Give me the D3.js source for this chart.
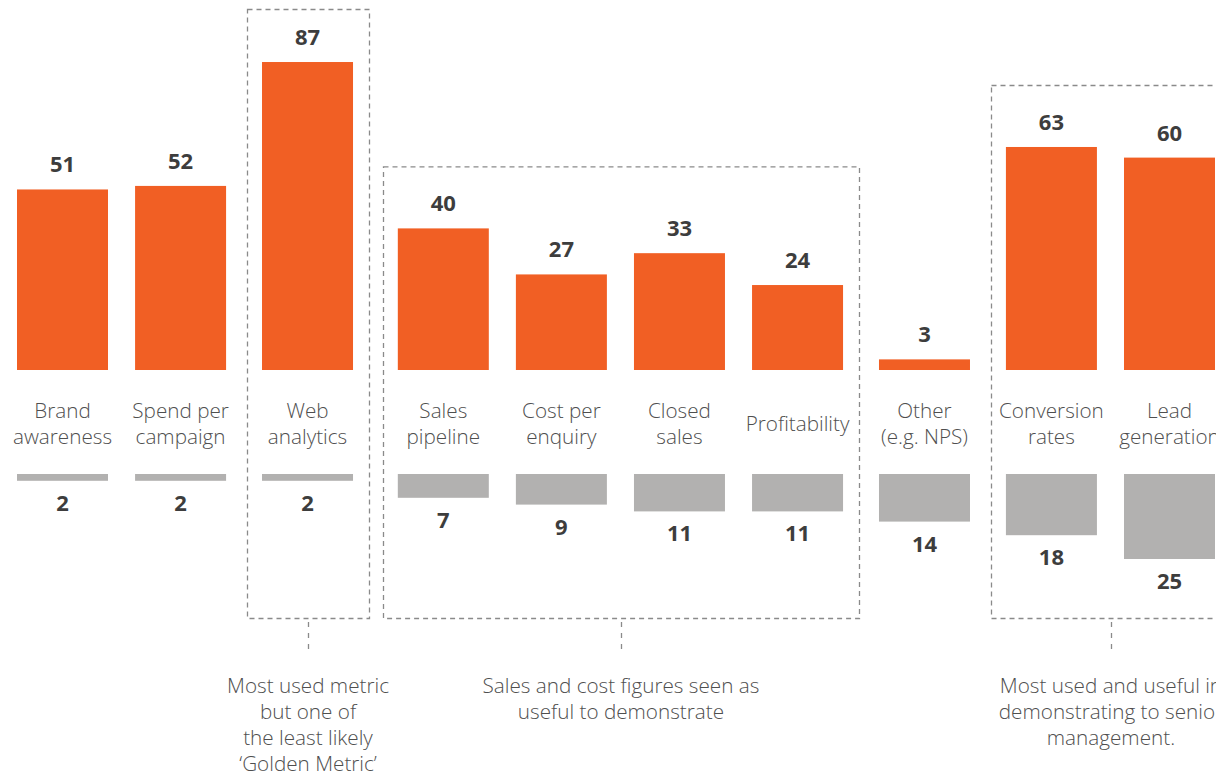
<!DOCTYPE html>
<html>
<head>
<meta charset="utf-8">
<script src="https://cdn.jsdelivr.net/npm/d3@7"></script>
<style>
  html, body { margin: 0; padding: 0; background: #ffffff; }
  svg { display: block; }
  text { font-family: "Open Sans", "Noto Sans", sans-serif; }
</style>
</head>
<body>
<svg id="chart" width="1216" height="778"></svg>
<script>
// Metrics, in display order
const categories = [
  "Brand awareness", "Spend per campaign", "Web analytics", "Sales pipeline",
  "Cost per enquiry", "Closed sales", "Profitability", "Other (e.g. NPS)",
  "Conversion rates", "Lead generation"
];
// Category labels, split onto lines as printed
const labelLines = [
  ["Brand", "awareness"], ["Spend per", "campaign"], ["Web", "analytics"],
  ["Sales", "pipeline"], ["Cost per", "enquiry"], ["Closed", "sales"],
  ["Profitability"], ["Other", "(e.g. NPS)"], ["Conversion", "rates"],
  ["Lead", "generation"]
];
// Share using each metric (upper, orange)
const usedValues = [51, 52, 87, 40, 27, 33, 24, 3, 63, 60];
// Share naming it the 'Golden Metric' (lower, grey)
const goldenValues = [2, 2, 2, 7, 9, 11, 11, 14, 18, 25];

// Highlighted groups of metrics, each with its note
const highlightGroups = [
  ["Web analytics"],
  ["Sales pipeline", "Cost per enquiry", "Closed sales", "Profitability"],
  ["Conversion rates", "Lead generation"]
];
const notes = [
  ["Most used metric", "but one of", "the least likely", "\u2018Golden Metric\u2019"],
  ["Sales and cost figures seen as", "useful to demonstrate"],
  ["Most used and useful in", "demonstrating to senior", "management."]
];

const ORANGE = "#f15f24";
const GREY_BAR = "#b2b1b0";
const NUM_COLOR = "#3d3d3d";
const LABEL_COLOR = "#4f4f4f";
const BOX_COLOR = "#8a8a8a";
const LABEL_SIZE = 20.7;

const svg = d3.select("#chart");

// Slot position: category index plus extra room for every box edge crossed
const edgesBefore = categories.map((c, i) => {
  let n = 0;
  highlightGroups.forEach(g => {
    const first = categories.indexOf(g[0]);
    const last = categories.indexOf(g[g.length - 1]);
    if (first <= i && first > 0) n += 1;   // left edge of the box
    if (last < i) n += 1;                  // right edge of the box
  });
  return n;
});
const EDGE_ROOM = 0.075;
const slot = c => {
  const i = categories.indexOf(c);
  return i + edgesBefore[i] * EDGE_ROOM;
};
const lastSlot = slot(categories[categories.length - 1]);

const x = d3.scaleLinear().domain([0, lastSlot]).range([17, 1124]);
const step = x(1) - x(0);
const barW = 91;

// Upper bars grow upward from the upper baseline
const yUp = d3.scaleLinear().domain([0, 100]).range([370, 370 - 354]);
// Lower bars hang downward from the lower baseline
const yDown = d3.scaleLinear().domain([0, 100]).range([474, 474 + 340]);

const data = categories.map((c, i) => ({
  cat: c, lines: labelLines[i], used: usedValues[i], golden: goldenValues[i]
}));

// Dashed boxes around highlighted groups, with a leader down to each note
const boxPadL = 15, boxPadR = 16, boxBottom = 618;
highlightGroups.forEach((members, k) => {
  const left = x(slot(members[0])) - boxPadL;
  const right = x(slot(members[members.length - 1])) + barW + boxPadR;
  const top = Math.max(9, d3.min(members, c => yUp(usedValues[categories.indexOf(c)])) - 62);
  const cx = (left + right) / 2;
  const g = svg.append("g");
  g.append("rect")
    .attr("x", Math.round(left) + 0.5).attr("y", top + 0.5)
    .attr("width", Math.round(right - left)).attr("height", boxBottom - top)
    .attr("fill", "none").attr("stroke", BOX_COLOR)
    .attr("stroke-width", 1.3).attr("stroke-dasharray", "5,4");
  g.append("line")
    .attr("x1", Math.round(cx) + 0.5).attr("x2", Math.round(cx) + 0.5)
    .attr("y1", boxBottom + 4).attr("y2", boxBottom + 34)
    .attr("stroke", BOX_COLOR).attr("stroke-width", 1.3)
    .attr("stroke-dasharray", "5,6");
  g.append("text")
    .attr("x", cx).attr("y", 693)
    .attr("text-anchor", "middle")
    .attr("fill", LABEL_COLOR)
    .attr("font-size", LABEL_SIZE).attr("font-weight", 300)
    .selectAll("tspan").data(notes[k]).join("tspan")
    .attr("x", cx).attr("dy", (d, i) => i === 0 ? 0 : 26)
    .text(d => d);
});

const bars = svg.append("g").selectAll("g.metric").data(data).join("g").attr("class", "metric");

// Upper bars
bars.append("rect")
  .attr("x", d => x(slot(d.cat))).attr("width", barW)
  .attr("y", d => yUp(d.used)).attr("height", d => yUp(0) - yUp(d.used))
  .attr("fill", ORANGE);
bars.append("text")
  .attr("x", d => x(slot(d.cat)) + barW / 2)
  .attr("y", d => yUp(d.used) - 17)
  .attr("text-anchor", "middle")
  .attr("fill", NUM_COLOR).attr("font-size", 22).attr("font-weight", 700)
  .text(d => d.used);

// Category labels
bars.append("text")
  .attr("text-anchor", "middle")
  .attr("fill", LABEL_COLOR).attr("font-size", LABEL_SIZE).attr("font-weight", 300)
  .attr("y", d => d.lines.length === 1 ? 431 : 418)
  .selectAll("tspan").data(d => d.lines.map(l => ({ l, cx: x(slot(d.cat)) + barW / 2 })))
  .join("tspan")
  .attr("x", t => t.cx).attr("dy", (t, i) => i === 0 ? 0 : 26)
  .text(t => t.l);

// Lower bars
bars.append("rect")
  .attr("x", d => x(slot(d.cat))).attr("width", barW)
  .attr("y", yDown(0)).attr("height", d => yDown(d.golden) - yDown(0))
  .attr("fill", GREY_BAR);
bars.append("text")
  .attr("x", d => x(slot(d.cat)) + barW / 2)
  .attr("y", d => yDown(d.golden) + 30)
  .attr("text-anchor", "middle")
  .attr("fill", NUM_COLOR).attr("font-size", 22).attr("font-weight", 700)
  .text(d => d.golden);
</script>
</body>
</html>
